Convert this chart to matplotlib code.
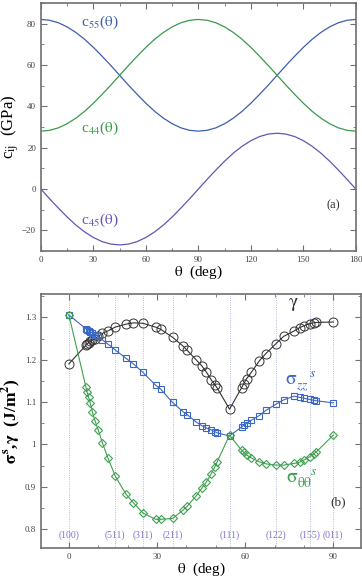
import numpy as np
import matplotlib
matplotlib.use("Agg")
import matplotlib.pyplot as plt
from matplotlib.ticker import MultipleLocator, FormatStrFormatter

plt.rcParams['font.family'] = ['Liberation Serif', 'DejaVu Serif']
plt.rcParams['mathtext.fontset'] = 'stix'

# ---- panel (a): elastic constants vs rotation angle ----
theta_a = [0, 5, 10, 15, 20, 25, 30, 35, 40, 45, 50, 55, 60, 65, 70, 75, 80, 85, 90,
           95, 100, 105, 110, 115, 120, 125, 130, 135, 140, 145, 150, 155, 160, 165, 170, 175, 180]
c55 = [82.0, 81.6, 80.4, 78.4, 75.7, 72.4, 68.5, 64.2, 59.7, 55.0, 50.3, 45.8, 41.5, 37.6, 34.3, 31.6, 29.6, 28.4, 28.0,
       28.4, 29.6, 31.6, 34.3, 37.6, 41.5, 45.8, 50.3, 55.0, 59.7, 64.2, 68.5, 72.4, 75.7, 78.4, 80.4, 81.6, 82.0]
c44 = [28.0, 28.4, 29.6, 31.6, 34.3, 37.6, 41.5, 45.8, 50.3, 55.0, 59.7, 64.2, 68.5, 72.4, 75.7, 78.4, 80.4, 81.6, 82.0,
       81.6, 80.4, 78.4, 75.7, 72.4, 68.5, 64.2, 59.7, 55.0, 50.3, 45.8, 41.5, 37.6, 34.3, 31.6, 29.6, 28.4, 28.0]
c45 = [0.0, -4.7, -9.2, -13.5, -17.4, -20.7, -23.4, -25.4, -26.6, -27.0, -26.6, -25.4, -23.4, -20.7, -17.4, -13.5, -9.2, -4.7, 0.0,
       4.7, 9.2, 13.5, 17.4, 20.7, 23.4, 25.4, 26.6, 27.0, 26.6, 25.4, 23.4, 20.7, 17.4, 13.5, 9.2, 4.7, 0.0]

# ---- panel (b): surface stress and energy ----
theta_b = [0, 5.8, 6.2, 6.7, 7.3, 8.0, 8.9, 10.0, 11.4, 13.3, 15.8, 19.5, 22.0, 25.2, 29.5, 31.2, 35.3,
           38.9, 40.3, 43.3, 45.3, 46.7, 48.5, 49.7, 50.5, 54.7, 58.8, 59.5, 60.5, 62.1, 64.8, 67.0,
           70.5, 73.1, 76.7, 78.6, 80.0, 82.0, 83.3, 84.2, 90]
gamma = [1.190, 1.234, 1.237, 1.240, 1.243, 1.246, 1.250, 1.255, 1.262, 1.268, 1.277, 1.284, 1.287, 1.286,
         1.277, 1.272, 1.253, 1.232, 1.222, 1.200, 1.185, 1.172, 1.152, 1.141, 1.133, 1.083, 1.134, 1.143,
         1.155, 1.170, 1.197, 1.214, 1.238, 1.255, 1.268, 1.276, 1.280, 1.285, 1.287, 1.288, 1.289]
sig_zz = [1.306, 1.273, 1.271, 1.268, 1.266, 1.263, 1.259, 1.255, 1.247, 1.237, 1.223, 1.203, 1.190, 1.170,
          1.140, 1.131, 1.099, 1.077, 1.070, 1.053, 1.044, 1.039, 1.034, 1.030, 1.027, 1.020, 1.041, 1.045,
          1.050, 1.057, 1.068, 1.080, 1.095, 1.105, 1.114, 1.111, 1.109, 1.106, 1.104, 1.103, 1.098]
sig_tt = [1.306, 1.136, 1.124, 1.112, 1.097, 1.077, 1.056, 1.034, 1.004, 0.968, 0.925, 0.882, 0.862, 0.838,
          0.823, 0.823, 0.825, 0.845, 0.854, 0.878, 0.897, 0.910, 0.931, 0.947, 0.959, 1.022, 0.986, 0.982,
          0.975, 0.968, 0.959, 0.954, 0.951, 0.951, 0.955, 0.958, 0.963, 0.971, 0.977, 0.982, 1.022]

orient_theta = [0, 15.8, 25.2, 35.3, 54.7, 70.5, 82.0, 90]
orient_labels = ['(100)', '(511)', '(311)', '(211)', '(111)', '(122)', '(155)', '(011)']

BLUE = '#3d5fae'
GREEN = '#3a9a48'
PURPLE = '#6a52b4'
SPINE = '#707070'

fig = plt.figure(figsize=(3.62, 5.80), dpi=100)
ax1 = fig.add_axes([0.113, 0.567, 0.870, 0.428])
ax2 = fig.add_axes([0.113, 0.055, 0.884, 0.438])


def style(ax):
    for s in ax.spines.values():
        s.set_color(SPINE)
        s.set_linewidth(1.2)
    ax.tick_params(which='both', direction='in', top=True, right=True,
                   color=SPINE, labelcolor='#444444', labelsize=6.5)
    ax.tick_params(which='major', length=4, width=0.8)
    ax.tick_params(which='minor', length=2, width=0.6)


# panel (a)
ax1.plot(theta_a, c55, color=BLUE, lw=0.9)
ax1.plot(theta_a, c44, color=GREEN, lw=0.9)
ax1.plot(theta_a, c45, color=PURPLE, lw=0.9)
ax1.set_xlim(0, 180)
ax1.set_ylim(-30, 90)
ax1.xaxis.set_major_locator(MultipleLocator(30))
ax1.xaxis.set_minor_locator(MultipleLocator(15))
ax1.yaxis.set_major_locator(MultipleLocator(20))
ax1.yaxis.set_minor_locator(MultipleLocator(10))
style(ax1)
ax1.set_xlabel(r'$\mathrm{\theta}$  (deg)', fontsize=11, labelpad=0)
ax1.set_ylabel(r'c$_{\mathrm{ij}}$  (GPa)', fontsize=12, labelpad=1)
ax1.text(23, 80.5, r'c$_{55}$($\mathrm{\theta}$)', color=BLUE, fontsize=11, va='center')
ax1.text(23, 29.5, r'c$_{44}$($\mathrm{\theta}$)', color=GREEN, fontsize=11, va='center')
ax1.text(23, -15, r'c$_{45}$($\mathrm{\theta}$)', color=PURPLE, fontsize=11, va='center')
ax1.text(163, -8, '(a)', fontsize=9, color='#333333', va='center')

# panel (b)
for x in orient_theta:
    ax2.axvline(x, color='#9aa6d6', lw=0.6, ls=':', zorder=0)
ax2.plot(theta_b, gamma, color='#333333', lw=0.8, marker='o', ms=6.5,
         mfc='none', mec='#333333', mew=0.7)
ax2.plot(theta_b, sig_zz, color='#3b68c4', lw=0.8, marker='s', ms=5,
         mfc='none', mec='#3b68c4', mew=0.8)
ax2.plot(theta_b, sig_tt, color='#3fa050', lw=0.8, marker='D', ms=4.3,
         mfc='none', mec='#3fa050', mew=0.8)
for x, lab in zip(orient_theta, orient_labels):
    ax2.text(x, 0.785, lab, fontsize=7, color='#8a72cc', ha='center', va='center')
ax2.set_xlim(-9.5, 99.4)
ax2.set_ylim(0.755, 1.355)
ax2.xaxis.set_major_locator(MultipleLocator(30))
ax2.xaxis.set_minor_locator(MultipleLocator(10))
ax2.yaxis.set_major_locator(MultipleLocator(0.1))
ax2.yaxis.set_minor_locator(MultipleLocator(0.05))
ax2.yaxis.set_major_formatter(FormatStrFormatter('%g'))
style(ax2)
ax2.set_xlabel(r'$\mathrm{\theta}$  (deg)', fontsize=11, labelpad=0)
ax2.set_ylabel(r'$\mathbf{\sigma}^{\mathbf{s}}$,$\mathbf{\gamma}$  (J/m$^{\mathbf{2}}$)',
               fontsize=12.5, fontweight='bold', labelpad=1)
ax2.text(74.5, 1.330, r'$\mathrm{\gamma}$', fontsize=14, color='#333333', va='center')
ax2.text(73.5, 1.148, r'$\mathrm{\sigma}_{zz}^{\ \ \ \ s}$', fontsize=14, color='#3b68c4', va='center')
ax2.text(74, 0.920, r'$\mathrm{\sigma}_{\mathrm{\theta\theta}}^{\ \ \ \ s}$', fontsize=14, color='#3fa050', va='center')
ax2.text(89, 0.864, '(b)', fontsize=9.5, color='#333333', va='center')

fig.savefig('out.png', dpi=100)
